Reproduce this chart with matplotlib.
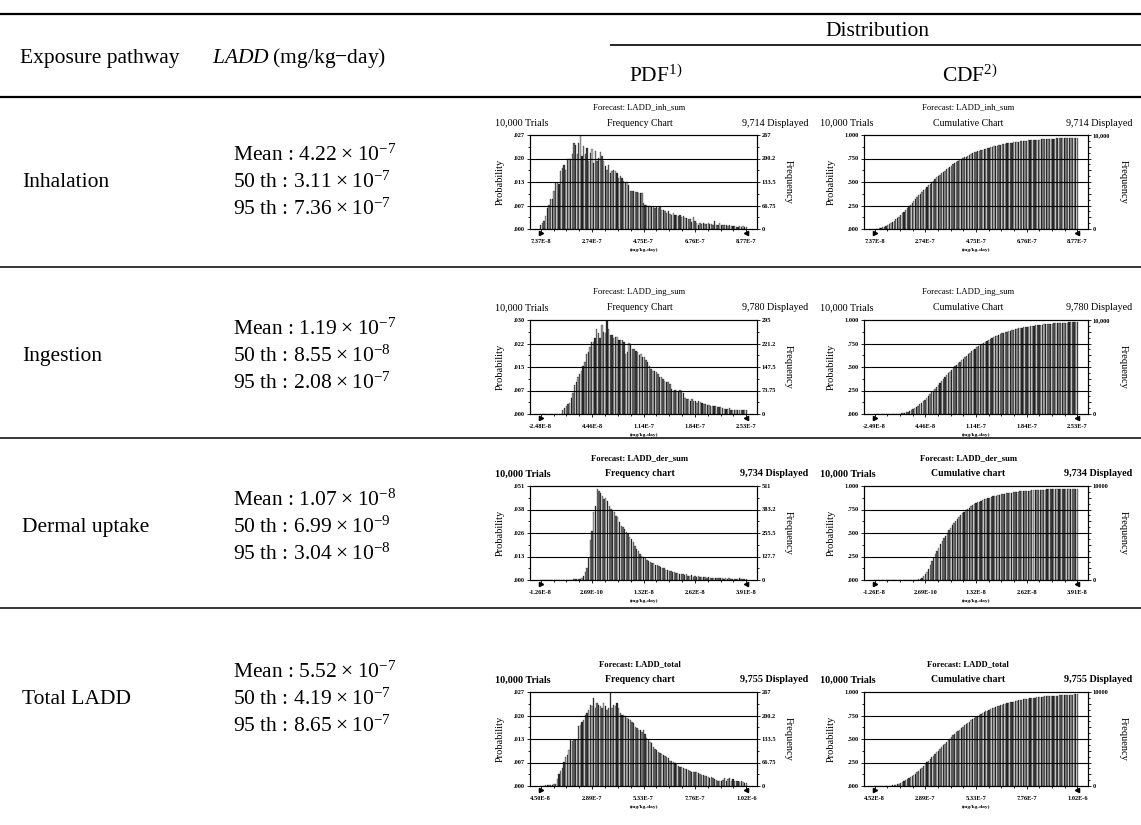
import numpy as np
import matplotlib
matplotlib.use("Agg")
import matplotlib.pyplot as plt
from matplotlib.ticker import AutoMinorLocator, FixedLocator
from matplotlib.transforms import blended_transform_factory

plt.rcParams['font.family'] = ['Liberation Serif', 'DejaVu Serif']
plt.rcParams['mathtext.fontset'] = 'custom'
plt.rcParams['mathtext.rm'] = 'Liberation Serif'
plt.rcParams['mathtext.it'] = 'Liberation Serif:italic'
plt.rcParams['mathtext.bf'] = 'Liberation Serif:bold'

W, H = 1141, 825
trials = 10000

# ---- table data ----
pathways = ["Inhalation", "Ingestion", "Dermal uptake", "Total LADD"]
mean_vals = ["4.22", "1.19", "1.07", "5.52"]
mean_exp = [-7, -7, -8, -7]
p50_vals = ["3.11", "8.55", "6.99", "4.19"]
p50_exp = [-7, -8, -9, -7]
p95_vals = ["7.36", "2.08", "3.04", "8.65"]
p95_exp = [-7, -7, -8, -7]

forecast_names = ["LADD_inh_sum", "LADD_ing_sum", "LADD_der_sum", "LADD_total"]
displayed = [9714, 9780, 9734, 9755]
pdf_titles = ["Frequency Chart", "Frequency Chart", "Frequency chart", "Frequency chart"]
cdf_titles = ["Cumulative Chart", "Cumulative Chart", "Cumulative chart", "Cumulative chart"]

x_lo = [7.37e-8, -2.48e-8, -1.26e-8, 4.50e-8]
x_hi = [8.77e-7, 2.53e-7, 3.91e-8, 1.02e-6]
pdf_xlabels = [["7.37E-8", "2.74E-7", "4.75E-7", "6.76E-7", "8.77E-7"],
               ["-2.48E-8", "4.46E-8", "1.14E-7", "1.84E-7", "2.53E-7"],
               ["-1.26E-8", "2.69E-10", "1.32E-8", "2.62E-8", "3.91E-8"],
               ["4.50E-8", "2.89E-7", "5.33E-7", "7.76E-7", "1.02E-6"]]
cdf_xlabels = [["7.37E-8", "2.74E-7", "4.75E-7", "6.76E-7", "8.77E-7"],
               ["-2.49E-8", "4.46E-8", "1.14E-7", "1.84E-7", "2.53E-7"],
               ["-1.26E-8", "2.69E-10", "1.32E-8", "2.62E-8", "3.91E-8"],
               ["4.52E-8", "2.89E-7", "5.33E-7", "7.76E-7", "1.02E-6"]]
freq_max = [267, 295, 511, 267]
pdf_prob_labels = [[".000", ".007", ".013", ".020", ".027"],
                   [".000", ".007", ".015", ".022", ".030"],
                   [".000", ".013", ".026", ".038", ".051"],
                   [".000", ".007", ".013", ".020", ".027"]]
pdf_freq_labels = [["0", "66.75", "133.5", "200.2", "267"],
                   ["0", "73.75", "147.5", "221.2", "295"],
                   ["0", "127.7", "255.5", "383.2", "511"],
                   ["0", "66.75", "133.5", "200.2", "267"]]
cdf_prob_labels = [".000", ".250", ".500", ".750", "1.000"]
cdf_freq_top = ["10,000", "10,000", "10000", "10000"]

# frequency per bin
inh_counts = [12, 17, 22, 36, 60, 67, 84, 86, 107, 131, 131, 128, 164, 174, 181, 169, 200, 200,
              200, 212, 245, 240, 212, 245, 267, 207, 236, 212, 231, 193, 217, 226, 188, 221,
              193, 202, 219, 207, 193, 179, 169, 183, 160, 164, 169, 166, 160, 145, 150, 145,
              136, 133, 134, 126, 107, 107, 107, 105, 104, 103, 103, 101, 74, 69, 67, 65, 65,
              63, 65, 60, 62, 60, 62, 55, 55, 50, 46, 50, 43, 39, 46, 41, 39, 36, 39, 33, 36,
              31, 31, 29, 27, 20, 33, 24, 17, 12, 17, 14, 17, 14, 14, 17, 14, 15, 12, 22, 12,
              12, 17, 10, 12, 10, 12, 8, 10, 9, 8, 8, 7, 6, 8, 6, 8, 5, 5]
ing_counts = [0, 0, 0, 0, 0, 0, 0, 0, 0, 0, 0, 0, 0,
              14, 19, 24, 30, 35, 51, 67, 91, 99, 115, 125, 136, 152, 162, 189, 194, 210, 226,
              226, 237, 268, 253, 237, 279, 258, 253, 295, 268, 247, 247, 237, 242, 242, 231,
              233, 231, 226, 189, 194, 223, 221, 205, 205, 199, 194, 184, 189, 178, 178, 168,
              162, 152, 141, 136, 136, 131, 125, 117, 115, 109, 104, 99, 99, 93, 77, 72, 74,
              72, 72, 74, 72, 67, 49, 46, 46, 40, 46, 42, 40, 35, 42, 38, 35, 30, 30, 28, 28,
              24, 24, 25, 24, 22, 23, 21, 19, 17, 17, 16, 19, 14, 13, 12, 12, 11, 11, 11, 12,
              11, 13]
der_counts = [0, 0, 0, 0, 0, 0, 0, 0, 0, 0, 0, 0, 0, 0, 0, 0, 0, 0,
              2, 3, 3, 4, 4, 5, 9, 23, 45, 63, 117, 215, 269, 368, 403, 497, 484, 475, 457,
              439, 448, 430, 403, 385, 376, 368, 350, 341, 314, 296, 287, 278, 260, 251, 233,
              224, 206, 185, 170, 156, 143, 131, 126, 117, 108, 102, 99, 95, 90, 81, 81, 77,
              72, 63, 63, 54, 54, 50, 48, 45, 41, 36, 36, 34, 30, 32, 27, 30, 23, 22, 27, 18,
              23, 18, 20, 16, 16, 14, 16, 13, 14, 13, 13, 11, 13, 9, 11, 9, 9, 7, 9, 7, 9, 5,
              7, 7, 7, 5, 9, 5, 5, 5, 7]
tot_counts = [0, 0, 0, 2, 2, 2, 2, 2,
              5, 7, 19, 34, 43, 51, 67, 82, 87, 101, 130, 128, 130, 130, 130, 171, 174, 183,
              188, 202, 207, 217, 231, 227, 251, 222, 236, 231, 227, 222, 236, 228, 217, 222,
              267, 222, 231, 228, 236, 222, 207, 202, 202, 198, 193, 190, 188, 183, 180, 169,
              164, 159, 159, 154, 159, 149, 135, 132, 125, 121, 111, 106, 101, 96, 94, 90, 87,
              84, 82, 80, 72, 70, 67, 65, 63, 58, 55, 53, 51, 48, 48, 46, 43, 41, 39, 41, 39,
              36, 34, 32, 32, 29, 29, 26, 24, 26, 22, 19, 16, 14, 14, 13, 16, 24, 14, 19, 22,
              14, 19, 14, 13, 14, 10, 13, 10, 9, 8]
all_counts = [inh_counts, ing_counts, der_counts, tot_counts]

# ---- layout (pixels) ----
row_axes_top = [135, 320, 486, 692]
row_text_mid = [180, 354, 525, 697]
separators = [267, 438, 608]
ax_h = 94
pdf_x = (530, 757)
cdf_x = (864, 1088)
shades = ['#3a3a3a', '#9a9a9a', '#555555', '#b8b8b8', '#2a2a2a', '#858585', '#6a6a6a']


def px_axes(fig, x0, y0, x1, y1):
    return fig.add_axes([x0 / W, 1 - y1 / H, (x1 - x0) / W, (y1 - y0) / H])


def draw_chart(fig, ax0, xs, ytop, vals, lo, hi, xlabels, prob_ticks, prob_labels,
               fticks, flabels, fmax, texts, cfg, weight):
    x0, x1 = xs
    y1 = ytop + ax_h
    ax = px_axes(fig, x0, ytop, x1, y1)
    ax.patch.set_visible(False)
    n = len(vals)
    centers = np.linspace(lo, hi, n)
    step = centers[1] - centers[0]
    pad = 0.052 * (hi - lo)
    cols = [shades[i % len(shades)] for i in range(n)]
    ax.bar(centers, vals, width=step * 0.8, color=cols, edgecolor='#1a1a1a',
           linewidth=0.2, zorder=2)
    ax.set_xlim(lo - pad, hi + pad)
    ax.set_ylim(prob_ticks[0], prob_ticks[-1])
    ax.set_xticks(np.linspace(lo, hi, 5))
    ax.set_xticklabels(xlabels, fontsize=4.6, fontweight='bold')
    ax.xaxis.set_minor_locator(AutoMinorLocator(4))
    ax.set_yticks(prob_ticks)
    ax.set_yticklabels(prob_labels, fontsize=4.6, fontweight='bold')
    ax.yaxis.set_minor_locator(AutoMinorLocator(2))
    for yv in prob_ticks[1:-1]:
        ax.axhline(yv, color='k', lw=0.8, zorder=3)
    ax.tick_params(which='both', length=2, width=0.6, pad=1.5, direction='out')
    ax.tick_params(which='minor', length=1.3)
    ax.tick_params(axis='x', which='major', pad=5.5)
    for s in ax.spines.values():
        s.set_linewidth(0.8)

    ax2 = ax.twinx()
    ax2.set_ylim(0, fmax)
    ax2.yaxis.set_major_locator(FixedLocator(fticks))
    ax2.set_yticklabels(flabels, fontsize=4.6, fontweight='bold')
    ax2.yaxis.set_minor_locator(AutoMinorLocator(2))
    ax2.tick_params(which='both', length=2, width=0.6, pad=1.5)
    ax2.tick_params(which='minor', length=1.3)
    for s in ax2.spines.values():
        s.set_linewidth(0.8)

    # certainty grabbers at both ends of the range
    tr = blended_transform_factory(ax.transData, ax.transAxes)
    ax.plot([lo], [-0.045], marker='>', ms=3.0, color='k', transform=tr, clip_on=False)
    ax.plot([hi], [-0.045], marker='<', ms=3.0, color='k', transform=tr, clip_on=False)

    forecast, title, shown = texts
    cx = (x0 + x1) / 2 + cfg['title_dx']
    ym = (ytop + y1) / 2
    ax0.text(cx, ytop - 28, "Forecast: " + forecast, ha='center', va='center',
             fontsize=6.2, fontweight=weight)
    ax0.text(x0 - cfg['trials_dx'], ytop - 12, "10,000 Trials", ha='left', va='center',
             fontsize=7.3, fontweight=weight)
    ax0.text(cx, ytop - 12, title, ha='center', va='center', fontsize=7.0, fontweight=weight)
    ax0.text(x1 + cfg['shown_dx'], ytop - 12, f"{shown:,} Displayed", ha='right',
             va='center', fontsize=7.3, fontweight=weight)
    ax0.text(x0 - cfg['prob_dx'], ym, "Probability", rotation=90, ha='center', va='center',
             fontsize=7.5)
    ax0.text(x1 + cfg['freq_dx'], ym, "Frequency", rotation=-90, ha='center', va='center',
             fontsize=7.5)
    ax0.text((x0 + x1) / 2, y1 + 21, "(mg/kg-day)", ha='center', va='center',
             fontsize=3.9, fontweight='bold')


fig = plt.figure(figsize=(W / 100, H / 100), dpi=100)
fig.patch.set_facecolor('white')
ax0 = fig.add_axes([0, 0, 1, 1])
ax0.set_xlim(0, W)
ax0.set_ylim(H, 0)
ax0.axis('off')

# table rules
ax0.hlines(14, 0, W, color='k', lw=1.6)
ax0.hlines(45, 610, W, color='k', lw=1.2)
ax0.hlines(97, 0, W, color='k', lw=1.6)
for yy in separators:
    ax0.hlines(yy, 0, W, color='k', lw=1.1)

fs = 15.5
ax0.text(20, 58, "Exposure pathway", ha='left', va='center', fontsize=fs)
ax0.text(212, 58, r"$\mathit{LADD}$" + "\u2009(mg/kg\u2212day)", ha='left', va='center',
         fontsize=fs)
ax0.text(877, 31, "Distribution", ha='center', va='center', fontsize=fs)
ax0.text(656, 76, r"PDF$^{1)}$", ha='center', va='center', fontsize=fs)
ax0.text(970, 76, r"CDF$^{2)}$", ha='center', va='center', fontsize=fs)

for i, name in enumerate(pathways):
    ym = row_text_mid[i]
    ax0.text(22, ym, name, ha='left', va='center_baseline', fontsize=fs)
    ax0.text(233, ym - 27, f"Mean : {mean_vals[i]}\u2009\u00d7\u200910$^{{{mean_exp[i]}}}$",
             ha='left', va='center_baseline', fontsize=fs)
    ax0.text(233, ym, f"50 th : {p50_vals[i]}\u2009\u00d7\u200910$^{{{p50_exp[i]}}}$",
             ha='left', va='center_baseline', fontsize=fs)
    ax0.text(233, ym + 27, f"95 th : {p95_vals[i]}\u2009\u00d7\u200910$^{{{p95_exp[i]}}}$",
             ha='left', va='center_baseline', fontsize=fs)

pdf_cfg = dict(title_dx=-4, trials_dx=35, shown_dx=51, prob_dx=30, freq_dx=31)
cdf_cfg = dict(title_dx=-8, trials_dx=44, shown_dx=44, prob_dx=33, freq_dx=35)

for i in range(4):
    counts = np.array(all_counts[i], dtype=float)
    weight = 'normal' if i < 2 else 'bold'
    fm = freq_max[i]
    prob_top = fm / trials
    # PDF
    draw_chart(fig, ax0, pdf_x, row_axes_top[i], counts / trials, x_lo[i], x_hi[i],
               pdf_xlabels[i], np.linspace(0, prob_top, 5), pdf_prob_labels[i],
               np.linspace(0, fm, 5), pdf_freq_labels[i], fm,
               (forecast_names[i], pdf_titles[i], displayed[i]), pdf_cfg, weight)
    # CDF, cumulated from the same bins
    cdf = np.cumsum(counts) / counts.sum() * displayed[i] / trials
    cdf_flabels = ["0"] + [""] * 7 + [cdf_freq_top[i]]
    draw_chart(fig, ax0, cdf_x, row_axes_top[i], cdf, x_lo[i], x_hi[i],
               cdf_xlabels[i], np.linspace(0, 1, 5), cdf_prob_labels,
               np.linspace(0, trials, 9), cdf_flabels, trials,
               (forecast_names[i], cdf_titles[i], displayed[i]), cdf_cfg, weight)

fig.savefig("out.png", dpi=100, facecolor='white')
